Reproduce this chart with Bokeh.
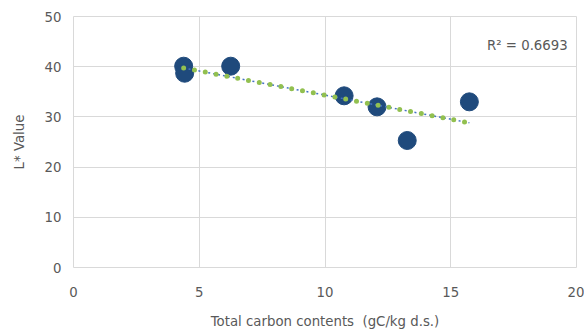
import numpy as np
from bokeh.plotting import figure
from bokeh.models import ColumnDataSource, Label, Range1d, FixedTicker
from bokeh.embed import file_html
from bokeh.resources import INLINE

carbon = [4.38, 4.42, 6.25, 10.76, 12.07, 13.27, 15.74]
l_value = [40.1, 38.7, 40.1, 34.2, 32.0, 25.3, 33.0]
x_ticks = [0, 5, 10, 15, 20]
y_ticks = [0, 10, 20, 30, 40, 50]
r2_text = "R² = 0.6693"

FONT = "DejaVu Sans"
GREY = "#595959"
FS = "13.3px"

p = figure(width=584, height=331, output_backend="svg", toolbar_location=None,
           x_range=Range1d(0, 20), y_range=Range1d(0, 50),
           min_border_left=73, min_border_right=8, min_border_top=16, min_border_bottom=62)

p.outline_line_color = "#d9d9d9"
p.grid.grid_line_color = "#d9d9d9"
p.xaxis.ticker = FixedTicker(ticks=x_ticks)
p.yaxis.ticker = FixedTicker(ticks=y_ticks)
for ax in (p.xaxis[0], p.yaxis[0]):
    ax.axis_line_color = None
    ax.major_tick_line_color = None
    ax.minor_tick_line_color = None
    ax.major_tick_out = 0
    ax.major_tick_in = 0
    ax.minor_tick_out = 0
    ax.major_label_text_font = FONT
    ax.major_label_text_font_size = FS
    ax.major_label_text_color = GREY
    ax.axis_label_text_font = FONT
    ax.axis_label_text_font_size = FS
    ax.axis_label_text_color = GREY
    ax.axis_label_text_font_style = "normal"
p.xaxis.axis_label = "Total carbon contents\u00a0 (gC/kg d.s.)"
p.yaxis.axis_label = "L* Value"
p.xaxis.major_label_standoff = 19
p.xaxis.axis_label_standoff = 14
p.yaxis.major_label_standoff = 12
p.yaxis.axis_label_standoff = 15

src = ColumnDataSource(dict(x=carbon, y=l_value))
p.scatter("x", "y", source=src, size=18, fill_color="#1f4a7c", line_color="#1f4a7c")

# linear trendline
k, b = np.polyfit(carbon, l_value, 1)
tx = [min(carbon), max(carbon)]
ty = [k * v + b for v in tx]
p.line(tx, ty, line_color="#4472c4", line_width=1.5, line_dash="2 3")
p.line(tx, ty, line_color="#92c050", line_width=5, line_dash="0 11", line_cap="round")

p.add_layout(Label(x=19.65, y=44.2, text=r2_text, text_align="right", text_baseline="middle",
                   text_font=FONT, text_font_size=FS, text_color=GREY))

open("out.html", "w").write(file_html(p, INLINE))
